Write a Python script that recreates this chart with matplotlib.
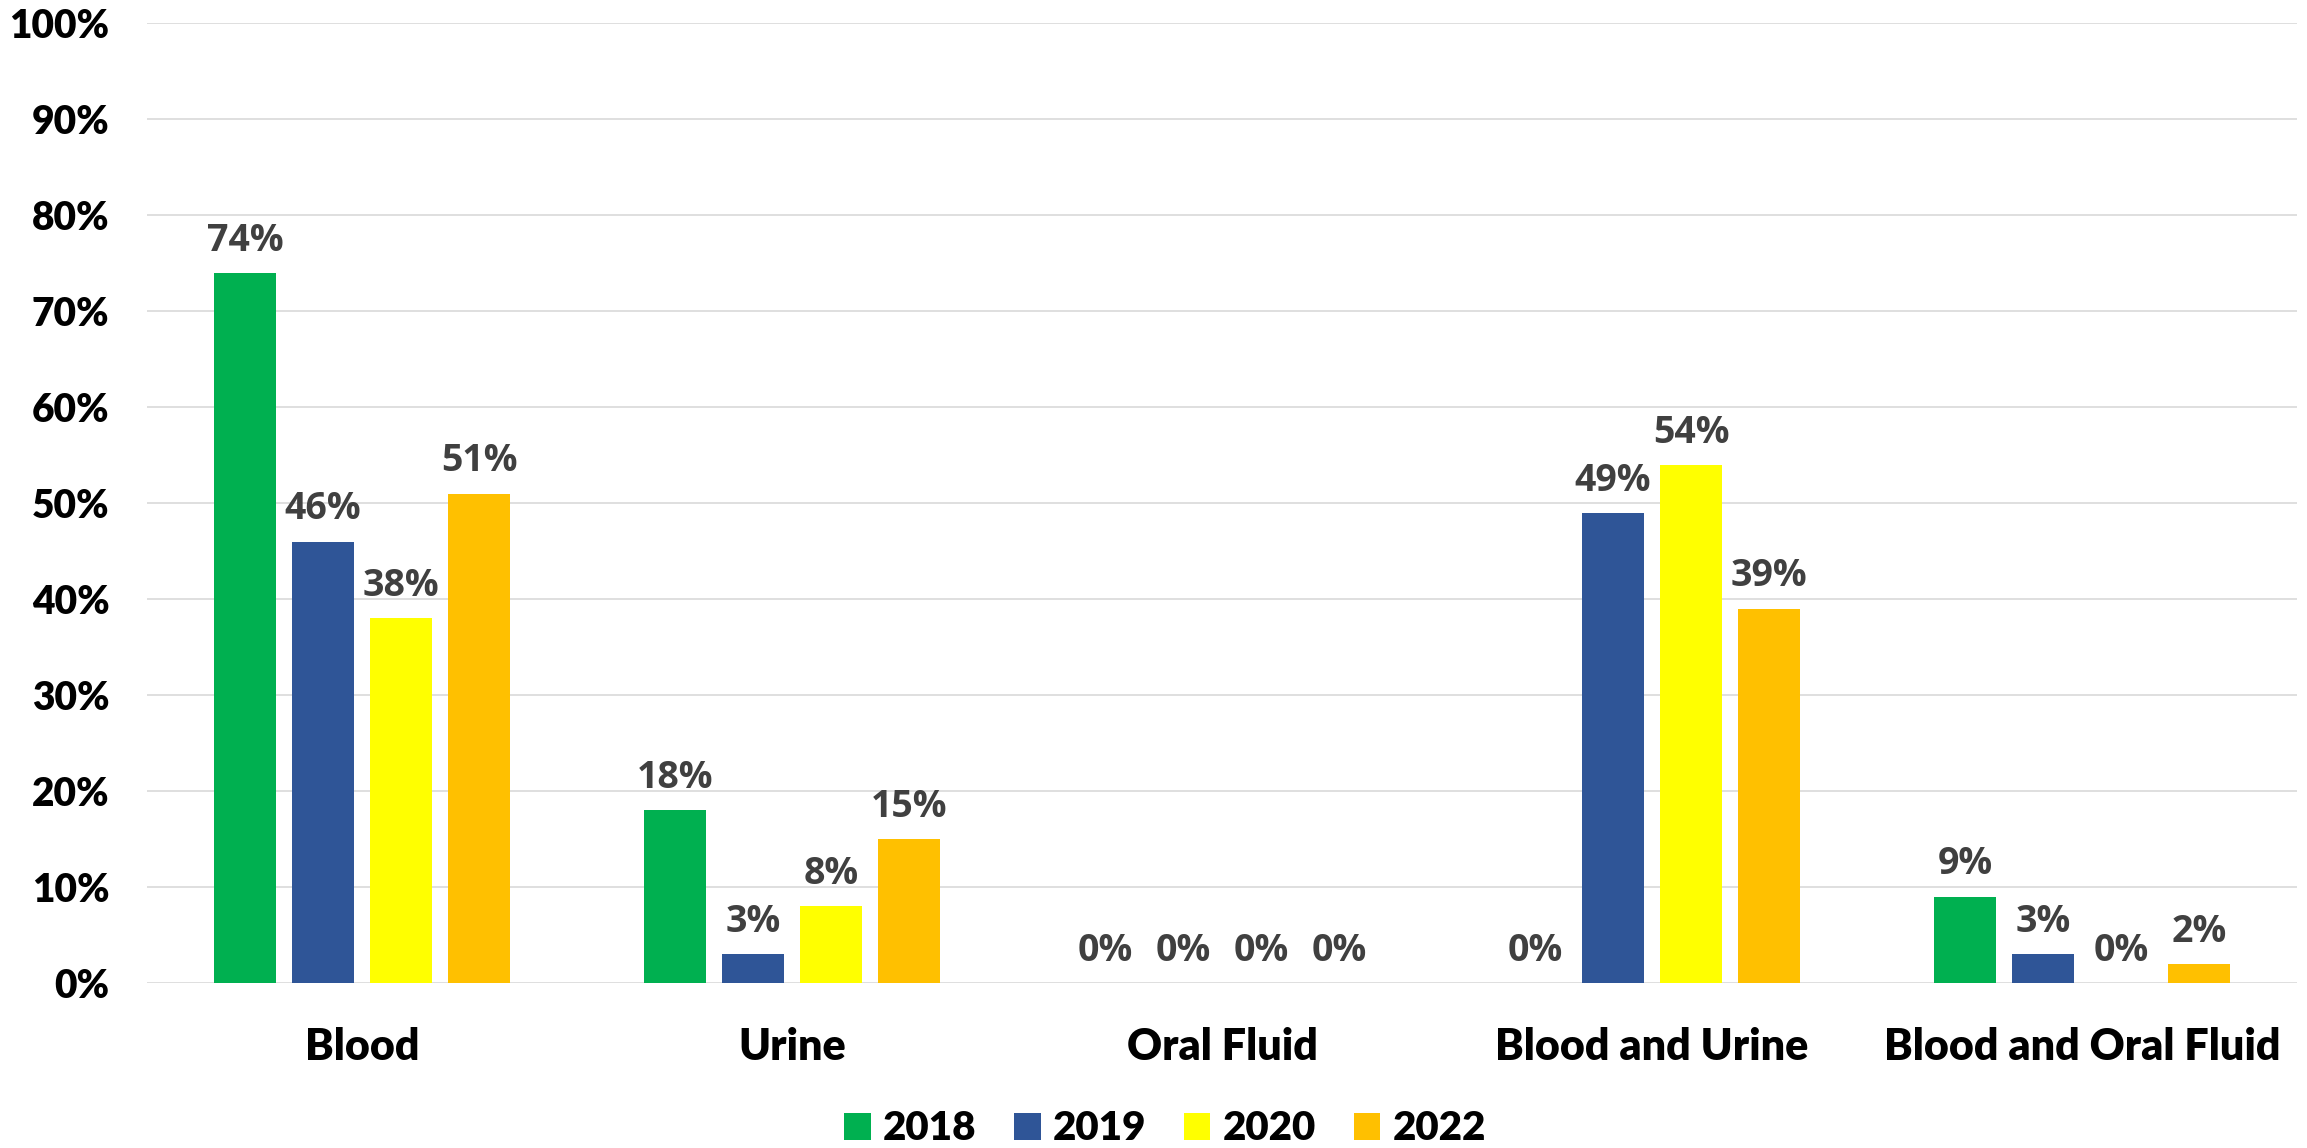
import numpy as np
import matplotlib
matplotlib.use("Agg")
import matplotlib.pyplot as plt
from matplotlib.ticker import PercentFormatter

categories = ["Blood", "Urine", "Oral Fluid", "Blood and Urine", "Blood and Oral Fluid"]
years = ["2018", "2019", "2020", "2022"]
v2018 = [74, 18, 0, 0, 9]
v2019 = [46, 3, 0, 49, 3]
v2020 = [38, 8, 0, 54, 0]
v2022 = [51, 15, 0, 39, 2]
series = [v2018, v2019, v2020, v2022]
colors = ["#00B050", "#2F5597", "#FFFF00", "#FFC000"]

fig = plt.figure(figsize=(23.07, 11.48), dpi=100)
ax = fig.add_axes([147/2307, 165/1148, 2150/2307, (983-23.3)/1148])

x = np.arange(len(categories))
step = 0.1814
width = 0.142
for j, (vals, c, yr) in enumerate(zip(series, colors, years)):
    xs = x + (j - 1.5) * step
    ax.bar(xs, vals, width, color=c, label=yr, zorder=3)
    for xi, v in zip(xs, vals):
        ax.annotate(f"{v}%", (xi, v), xytext=(0, 16), textcoords="offset points",
                    ha="center", va="baseline", fontsize=27, fontweight="bold",
                    family="Open Sans", color="#404040")

ax.set_xlim(-0.5, len(categories) - 0.5)
ax.set_ylim(0, 100)
ax.set_yticks(range(0, 101, 10))
ax.yaxis.set_major_formatter(PercentFormatter(decimals=0))
ax.grid(axis="y", color="#D9D9D9", linewidth=1.2, zorder=0)
for s in ax.spines.values():
    s.set_visible(False)
ax.tick_params(length=0)
ax.tick_params(axis="y", pad=27)
ax.tick_params(axis="x", pad=32)
ax.set_xticks(x)
ax.set_xticklabels(categories)
for t in ax.get_yticklabels():
    t.set_fontsize(28)
    t.set_fontweight("heavy")
    t.set_family("Lato")
for t in ax.get_xticklabels():
    t.set_fontsize(31)
    t.set_fontweight("heavy")
    t.set_family("Lato")

fig.legend(loc="center", bbox_to_anchor=(1165/2307, 19/1148), ncol=4, frameon=False,
           prop={"family": "Lato", "weight": "heavy", "size": 29},
           handlelength=0.65, handleheight=0.65, handletextpad=0.3, columnspacing=0.95)

fig.savefig("out.png", dpi=100)
